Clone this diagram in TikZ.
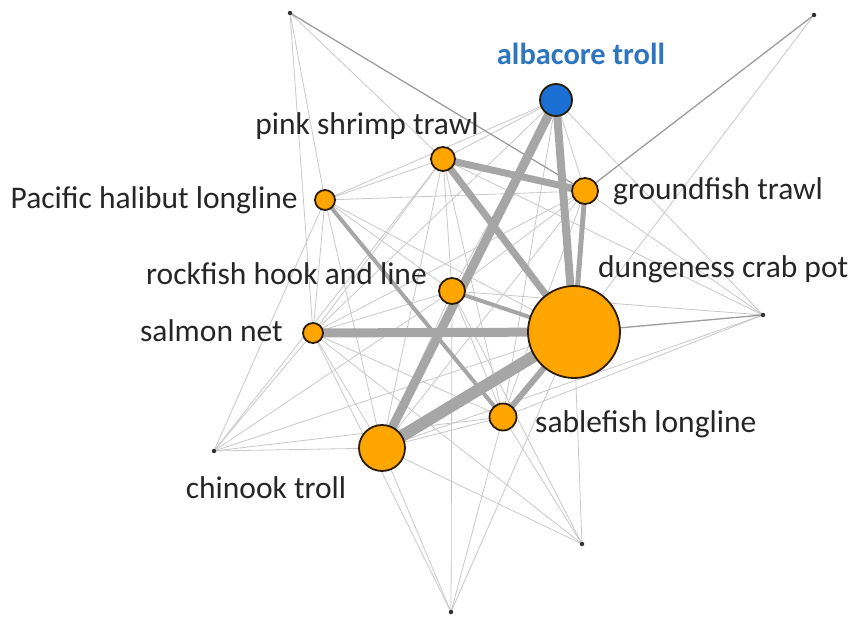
\documentclass[tikz,border=0pt]{standalone}
\usepackage{fontspec}
\setmainfont{Carlito}
\pgfdeclarelayer{bg}
\pgfsetlayers{bg,main}
\definecolor{orng}{HTML}{FFA500}
\definecolor{blu}{HTML}{1C6FD2}
\definecolor{bluetext}{HTML}{2E75C0}
\definecolor{rim}{HTML}{2A1C05}
\definecolor{thick}{HTML}{A6A6A6}
\definecolor{thin}{HTML}{C8C8C8}
\definecolor{mid}{HTML}{9C9C9C}
\definecolor{txt}{HTML}{262626}
\tikzset{
  fish/.style={circle, draw=rim, line width=1.8pt, fill=orng, inner sep=0pt, minimum size=#1},
  albnode/.style={circle, draw=rim, line width=1.8pt, fill=blu, inner sep=0pt, minimum size=#1},
  dot/.style={circle, fill=black!80, inner sep=0pt, minimum size=4.5pt},
  lbl/.style={text=txt, font=\fontsize{31.5}{36}\selectfont, inner sep=0pt},
  thinedge/.style={draw=thin, line width=0.8pt},
  midedge/.style={draw=mid, line width=1.3pt},
  heavy/.style={draw=thick, line width=#1, line cap=butt},
}
\begin{document}
\begin{tikzpicture}[x=1pt,y=-1pt]
\useasboundingbox (0,0) rectangle (851,617);
% main nodes
\node[albnode=32pt] (A) at (556,100) {};
\node[fish=24pt] (P) at (443,159) {};
\node[fish=26pt] (G) at (585,191) {};
\node[fish=20pt] (H) at (325,200) {};
\node[fish=26pt] (R) at (452,291) {};
\node[fish=92pt] (D) at (574,332) {};
\node[fish=20pt] (S) at (313,333) {};
\node[fish=27pt] (B) at (503,417) {};
\node[fish=46pt] (C) at (382,448) {};
% peripheral dots
\node[dot] (t1) at (290,13) {};
\node[dot] (t2) at (814,15) {};
\node[dot] (t3) at (763,315) {};
\node[dot] (t4) at (214,451) {};
\node[dot] (t5) at (582,544) {};
\node[dot] (t6) at (451,612) {};
% labels
\node[lbl, anchor=base, text=bluetext, font=\fontsize{30.5}{36}\selectfont\bfseries] (lA) at (581,65) {albacore troll};
\node[lbl, anchor=base] (lP) at (367,135) {pink shrimp trawl};
\node[lbl, anchor=base west] (lG) at (613,200) {groundfish trawl};
\node[lbl, anchor=base east] (lH) at (298,209) {Pacific halibut longline};
\node[lbl, anchor=base east] (lR) at (427,285) {rockfish hook and line};
\node[lbl, anchor=base east] (lS) at (283,342) {salmon net};
\node[lbl, anchor=base west] (lD) at (598,278) {dungeness crab pot};
\node[lbl, anchor=base west] (lB) at (535,432) {sablefish longline};
\node[lbl, anchor=base] (lC) at (266,498) {chinook troll};
% edges
\begin{pgfonlayer}{bg}
% thin edges among main nodes
\foreach \a/\b in {A/P,A/G,A/H,A/R,A/S,A/B,P/H,P/R,P/S,P/B,P/C,G/H,G/R,G/S,G/B,G/C,H/R,H/S,H/D,H/C,R/S,R/B,R/C,S/B,S/C,B/C}
  \draw[thinedge] (\a.center) -- (\b.center);
% thin edges to peripheral dots
\foreach \a/\b in {t1/S,t1/P,t1/H,t2/D,t3/A,t3/G,t3/P,t3/B,t3/C,t3/R,t4/H,t4/S,t4/R,t4/P,t4/D,t4/B,t4/C,t5/D,t5/B,t5/R,t5/C,t5/S,t6/C,t6/B,t6/R,t6/D,t6/S}
  \draw[thinedge] (\a.center) -- (\b.center);
\draw[midedge] (t1.center) -- (G.center);
\draw[midedge] (t2.center) -- (G.center);
\draw[midedge] (t3.center) -- (D.center);
% heavy edges
\draw[heavy=4pt] (H.center) -- (B.center);
\draw[heavy=4pt] (R.center) -- (D.center);
\draw[heavy=5pt] (G.center) -- (D.center);
\draw[heavy=6pt] (B.center) -- (D.center);
\draw[heavy=7pt] (P.center) -- (G.center);
\draw[heavy=7pt] (P.center) -- (D.center);
\draw[heavy=8pt] (A.center) -- (D.center);
\draw[heavy=9pt] (A.center) -- (C.center);
\draw[heavy=9pt] (S.center) -- (D.center);
\draw[heavy=12pt] (C.center) -- (D.center);
\end{pgfonlayer}
\end{tikzpicture}
\end{document}
